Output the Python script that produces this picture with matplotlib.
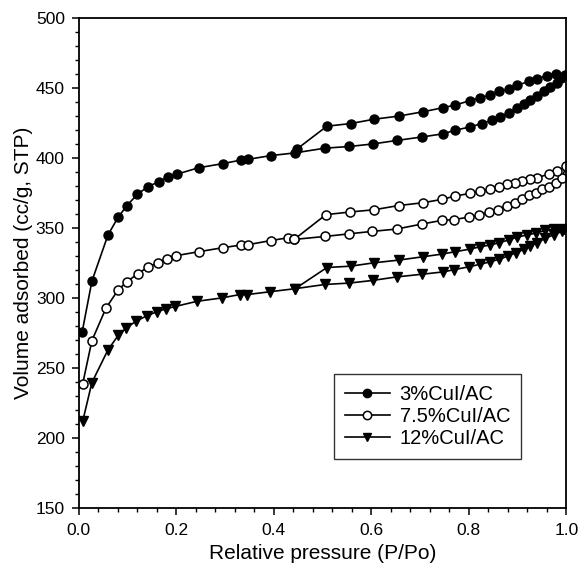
import numpy as np
import matplotlib
matplotlib.use("Agg")
import matplotlib.pyplot as plt
from matplotlib.ticker import MultipleLocator, FormatStrFormatter

plt.rcParams['font.family'] = ['Liberation Sans', 'DejaVu Sans']

# 3% CuI/AC
x3_ads = [0.007, 0.027, 0.06, 0.081, 0.099, 0.12, 0.142, 0.164, 0.183, 0.202, 0.246, 0.296, 0.333, 0.347,
          0.394, 0.443, 0.505, 0.555, 0.603, 0.652, 0.704, 0.748, 0.772, 0.803, 0.827, 0.848, 0.865,
          0.882, 0.899, 0.913, 0.926, 0.94, 0.954, 0.967, 0.981, 0.99, 0.998]
y3_ads = [275.6, 312.0, 345.0, 357.8, 366.0, 374.0, 379.5, 383.0, 386.5, 388.5, 393.0, 396.0, 398.5, 399.0,
          401.7, 403.6, 407.0, 408.2, 410.0, 412.5, 415.0, 417.3, 419.8, 422.2, 424.6, 427.0, 429.4,
          432.3, 435.4, 438.3, 441.4, 444.6, 447.5, 450.4, 453.5, 457.0, 459.5]
x3_des = [0.978, 0.96, 0.94, 0.923, 0.899, 0.882, 0.863, 0.844, 0.824, 0.803, 0.772, 0.747, 0.706,
          0.656, 0.606, 0.558, 0.509, 0.448]
y3_des = [460.0, 458.8, 456.6, 454.7, 451.8, 449.4, 447.5, 445.0, 443.0, 441.0, 437.8, 435.9, 433.0,
          429.9, 427.7, 424.6, 422.7, 406.5]

# 7.5% CuI/AC
x75_ads = [0.008, 0.027, 0.056, 0.08, 0.098, 0.121, 0.143, 0.163, 0.182, 0.2, 0.246, 0.296, 0.333, 0.347,
           0.394, 0.43, 0.442, 0.505, 0.555, 0.601, 0.652, 0.704, 0.745, 0.77, 0.8, 0.821, 0.841, 0.859,
           0.878, 0.895, 0.909, 0.923, 0.937, 0.95, 0.964, 0.978, 0.991]
y75_ads = [238.5, 269.5, 292.8, 305.3, 311.4, 317.2, 322.3, 325.0, 328.1, 330.2, 333.0, 335.9, 337.8, 338.0,
           341.0, 343.0, 341.8, 343.9, 345.8, 347.5, 349.2, 352.8, 355.4, 355.9, 357.8, 359.5, 361.2, 363.1,
           366.0, 368.0, 370.4, 373.3, 375.2, 377.6, 379.5, 381.9, 386.0]
x75_des = [1.0, 0.981, 0.964, 0.941, 0.926, 0.909, 0.895, 0.878, 0.863, 0.844, 0.824, 0.803, 0.772,
           0.745, 0.706, 0.656, 0.606, 0.557, 0.507, 0.442]
y75_des = [394.0, 390.8, 388.4, 386.0, 384.8, 383.6, 382.4, 381.2, 379.5, 378.0, 376.4, 374.7, 372.8,
           370.4, 368.0, 366.0, 363.0, 361.4, 359.5, 341.8]

# 12% CuI/AC
x12_ads = [0.008, 0.027, 0.06, 0.081, 0.097, 0.118, 0.14, 0.161, 0.179, 0.198, 0.243, 0.294, 0.33, 0.346,
           0.392, 0.444, 0.505, 0.555, 0.603, 0.652, 0.704, 0.748, 0.77, 0.8, 0.824, 0.844, 0.863,
           0.88, 0.897, 0.913, 0.926, 0.941, 0.957, 0.974, 0.991]
y12_ads = [211.7, 239.5, 262.9, 273.2, 278.5, 283.4, 287.3, 290.2, 292.2, 293.9, 297.6, 300.0, 302.4, 302.4,
           304.4, 306.6, 309.6, 310.6, 312.5, 315.0, 316.9, 318.6, 320.2, 322.2, 324.1, 325.8, 327.7,
           329.9, 332.3, 334.7, 337.1, 339.5, 342.7, 345.0, 347.5]
x12_des = [0.995, 0.974, 0.957, 0.937, 0.92, 0.899, 0.882, 0.863, 0.844, 0.824, 0.803, 0.772, 0.745,
           0.706, 0.656, 0.606, 0.558, 0.509, 0.444]
y12_des = [349.2, 349.2, 348.2, 346.3, 345.0, 343.4, 341.4, 339.5, 337.8, 336.6, 334.9, 333.0, 331.3,
           329.4, 327.0, 325.1, 322.7, 321.7, 306.6]

labels = ['3%CuI/AC', '7.5%CuI/AC', '12%CuI/AC']

fig = plt.figure(figsize=(5.79, 5.63), dpi=100)
ax = fig.add_axes([0.136, 0.098, 0.842, 0.870])

ax.plot(x3_ads + x3_des, y3_ads + y3_des, '-o', color='k', mfc='k', ms=6.5, lw=1.2, label=labels[0])
ax.plot(x75_ads + x75_des, y75_ads + y75_des, '-o', color='k', mfc='white', ms=6.5, mew=1.1, lw=1.2,
        label=labels[1])
ax.plot(x12_ads + x12_des, y12_ads + y12_des, '-v', color='k', mfc='k', ms=6.5, lw=1.2, label=labels[2])

ax.set_xlim(0, 1.0)
ax.set_ylim(150, 500)
ax.xaxis.set_major_locator(MultipleLocator(0.2))
ax.xaxis.set_minor_locator(MultipleLocator(0.04))
ax.yaxis.set_major_locator(MultipleLocator(50))
ax.yaxis.set_minor_locator(MultipleLocator(10))
ax.xaxis.set_major_formatter(FormatStrFormatter('%.1f'))
ax.tick_params(which='major', direction='out', length=5, width=1.1, labelsize=12.5)
ax.tick_params(which='minor', direction='out', length=3, width=1.0)
ax.tick_params(axis='y', which='major', pad=5)
ax.tick_params(axis='x', which='major', pad=6)
ax.tick_params(top=False, right=False)
for s in ax.spines.values():
    s.set_linewidth(1.3)

ax.set_xlabel("Relative pressure (P/Po)", fontsize=15, labelpad=4)
ax.set_ylabel("Volume adsorbed (cc/g, STP)", fontsize=15, labelpad=2)

leg = ax.legend(loc='upper left', bbox_to_anchor=(0.524, 0.273), fontsize=14.5, handlelength=2.2,
                frameon=True, fancybox=False, edgecolor='k', borderpad=0.55, labelspacing=0.15,
                handletextpad=0.5, borderaxespad=0)
leg.get_frame().set_linewidth(1.0)
for h in leg.legend_handles:
    h.set_markersize(6)

fig.savefig('out.png', dpi=100)
